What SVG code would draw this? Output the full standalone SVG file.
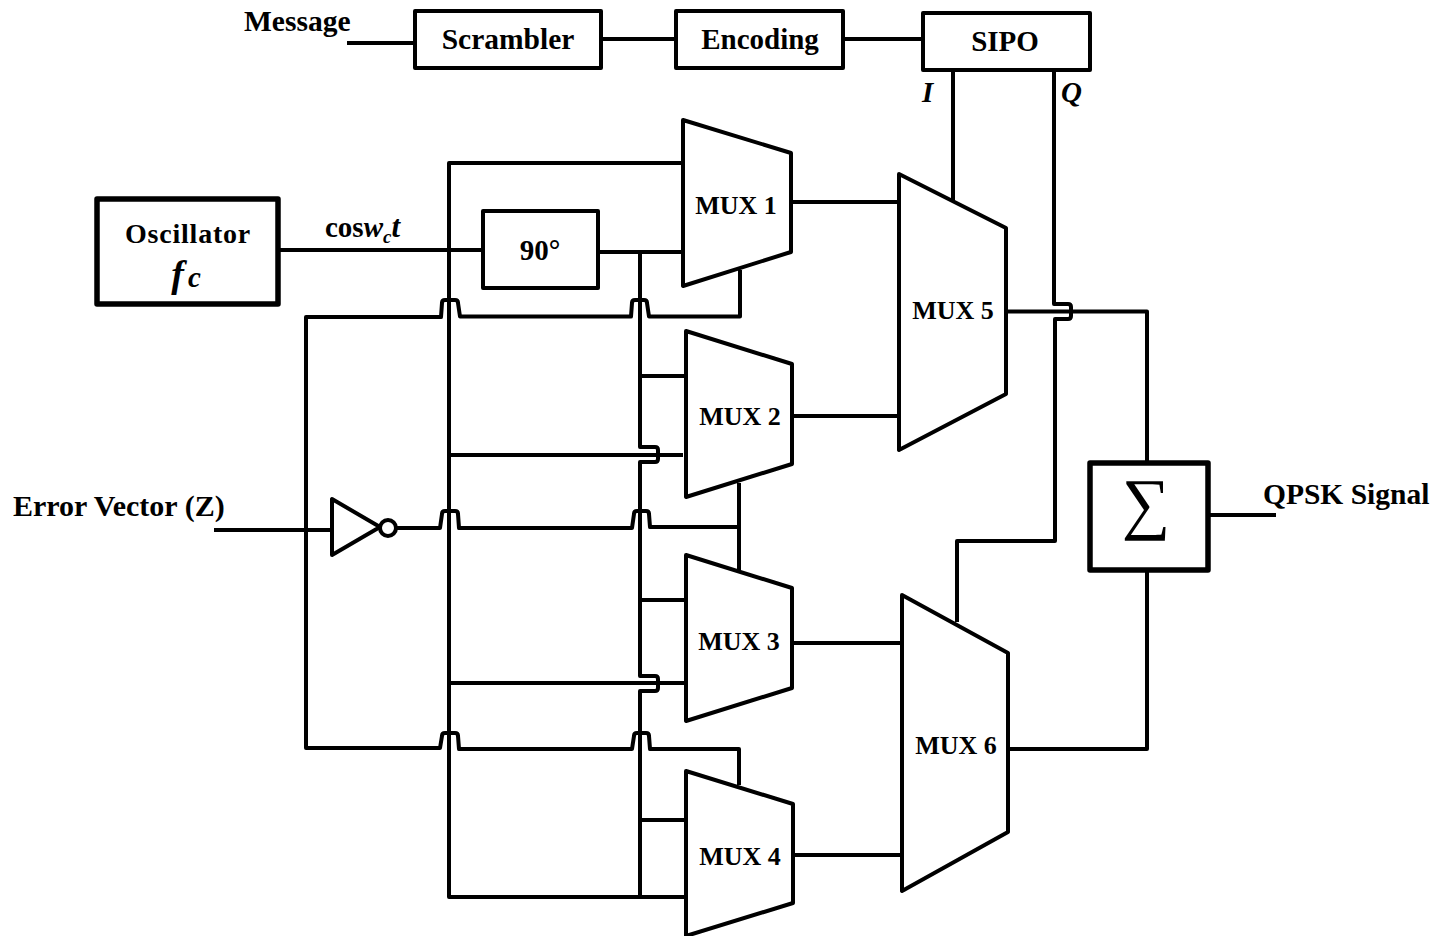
<svg xmlns="http://www.w3.org/2000/svg" width="1435" height="936" viewBox="0 0 1435 936">
<style>
.w{fill:none;stroke:#000;stroke-width:4;stroke-linejoin:round}
.b{fill:#fff;stroke:#000;stroke-width:4;stroke-linejoin:round}
.k{fill:#fff;stroke:#000;stroke-width:5.500;stroke-linejoin:round}
text{font-family:"Liberation Serif","Times New Roman",serif;font-weight:bold;font-size:29px;fill:#000}
.m{font-size:26px;text-anchor:middle}
.c{text-anchor:middle}
.i{font-style:italic}
</style>
<rect width="1435" height="936" fill="#fff"/>
<g id="connectors" class="w">
<path d="M347 43H415M601 39H676M843 39H923"/>
<path d="M953 70V200"/>
<path d="M1054 70V304H1068Q1071 304 1071 307V316Q1071 319 1068 319H1055V541H957V622"/>
<path d="M1006 311.500H1147V463M1147 570V749H1008"/>
<path d="M1208 515H1276"/>
<path d="M791 202H899M792 416H899M792 643H902M793 855H902"/>
<path d="M278 250H483M598 252H683"/>
<path d="M683 163H449V897H686"/>
<path d="M449 455H683M449 683H686"/>
<path d="M640 252V447H655Q658 447 658 450V459Q658 462 655 462H640V676H655Q658 676 658 679V688Q658 691 655 691H640V897"/>
<path d="M640 376H686M640 600H686M640 820H686"/>
<path d="M740 270V316.500H649L647 303Q647 300 644 300H635Q632 300 632 303L631 316.500H460L458 303Q458 300 455 300H445Q442 300 442 303L441 317H306V748H440L442 736Q442 733 445 733H455Q458 733 458 736L459 749H632L634 736Q634 733 637 733H646Q649 733 649 736L650 749H739V785"/>
<path d="M214 530H332"/>
<path d="M397 528H440L442 514Q442 511 445 511H455Q458 511 458 514L459 528H632L634 514Q634 511 637 511H646Q649 511 649 514L650 527H739M739 483V570"/>
</g>
<g id="message-label"><text x="244" y="31" style="font-size:29.500px">Message</text></g>
<g id="scrambler"><rect class="b" x="415" y="11" width="186" height="57"/><text class="c" x="508" y="49" style="font-size:29.500px">Scrambler</text></g>
<g id="encoding"><rect class="b" x="676" y="11" width="167" height="57"/><text class="c" x="760" y="49">Encoding</text></g>
<g id="sipo"><rect class="b" x="923" y="13" width="167" height="57"/><text class="c" x="1005" y="51">SIPO</text></g>
<g id="i-label"><text class="i" x="922" y="102">I</text></g>
<g id="q-label"><text class="i" x="1061" y="102">Q</text></g>
<g id="oscillator"><rect class="k" x="97" y="199" width="181" height="105"/><text class="c" x="188" y="243" style="font-size:28px;letter-spacing:.8px">Oscillator</text><text class="c i" x="186" y="287" style="font-size:38px">f<tspan font-size="29" dx="4">c</tspan></text></g>
<g id="cos-label"><text x="325" y="237" style="font-size:29px">cos<tspan class="i">w</tspan><tspan class="i" font-size="19" dy="6">c</tspan><tspan class="i" dy="-6" style="font-size:31px">t</tspan></text></g>
<g id="phase-90"><rect class="b" x="483" y="211" width="115" height="77"/><text class="c" x="540" y="260">90°</text></g>
<g id="mux1"><path class="b" d="M683 120L791 153V252L683 286Z"/><text class="m" x="736" y="214">MUX 1</text></g>
<g id="mux2"><path class="b" d="M686 331L792 364V464L686 497Z"/><text class="m" x="740" y="425">MUX 2</text></g>
<g id="mux3"><path class="b" d="M686 555L792 588V688L686 721Z"/><text class="m" x="739" y="650">MUX 3</text></g>
<g id="mux4"><path class="b" d="M686 771L793 804V903L686 936Z"/><text class="m" x="740" y="865">MUX 4</text></g>
<g id="mux5"><path class="b" d="M899 174L1006 228V394L899 450Z"/><text class="m" x="953" y="319">MUX 5</text></g>
<g id="mux6"><path class="b" d="M902 595L1008 653V832L902 891Z"/><text class="m" x="956" y="754">MUX 6</text></g>
<g id="inverter"><path class="b" d="M332 499V555L380 527Z"/><circle class="b" cx="388" cy="528" r="8"/></g>
<g id="error-label"><text x="13" y="516" style="font-size:30px">Error Vector (Z)</text></g>
<g id="summer"><rect class="k" x="1090" y="463" width="118" height="107"/><text class="c" x="1146" y="526" style="font-size:68px;font-weight:normal">∑</text></g>
<g id="qpsk-label"><text x="1263" y="504" style="font-size:29.500px">QPSK Signal</text></g>
</svg>
